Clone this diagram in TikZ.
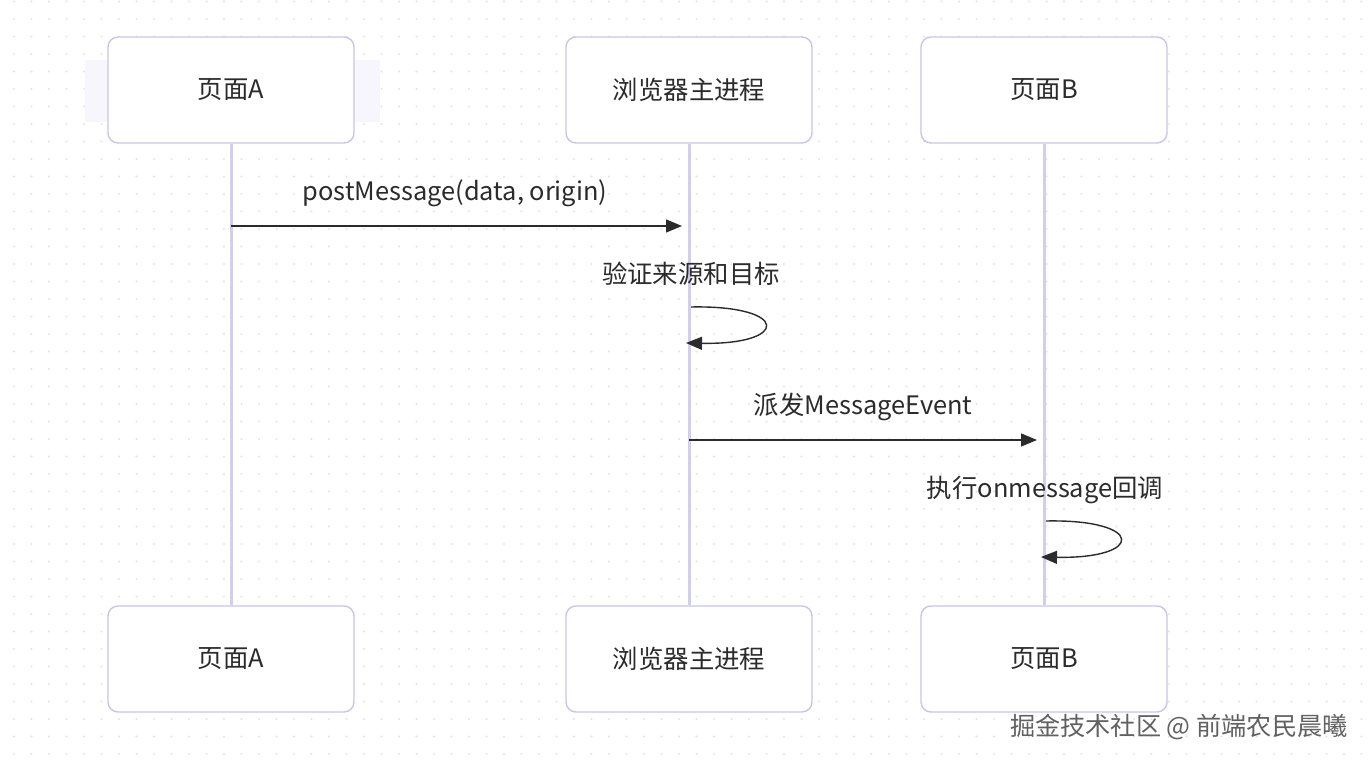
\documentclass[tikz,border=0pt]{standalone}
\usepackage{fontspec}
\setmainfont{Noto Sans CJK SC}
\usetikzlibrary{arrows.meta}

\definecolor{boxline}{HTML}{C9C5E8}
\definecolor{lifecol}{HTML}{D2CEF0}
\definecolor{ink}{HTML}{2B2B2B}
\definecolor{dotgray}{HTML}{E4E4E4}
\definecolor{glow}{HTML}{F7F6FD}

\begin{document}
\begin{tikzpicture}[x=0.5pt,y=-0.5pt,
    actor/.style={draw=boxline,fill=white,line width=0.7pt,rounded corners=5pt,
      minimum width=123pt,minimum height=53pt,text=ink,font=\fontsize{12.7}{15}\selectfont},
    lifeline/.style={draw=lifecol,line width=1.5pt},
    msg/.style={draw=ink,line width=0.7pt,-{Triangle[length=8pt,width=6.5pt]}},
    msgtext/.style={text=ink,inner sep=0pt,font=\fontsize{12.7}{15}\selectfont}]
  % Background
  \useasboundingbox (0,0) rectangle (1370,763);
  \fill[white] (0,0) rectangle (1370,763);
  \foreach \x in {0,...,77} {
    \foreach \y in {0,...,43} {
      \fill[dotgray] (14+17.5*\x,1.5+17.5*\y) circle (0.6pt);
    }
  }
  \fill[glow] (85,60) rectangle (380,122);
  % Participants
  \node[actor] (aTop) at (231,90) {页面A};
  \node[actor] (bTop) at (689,90) {浏览器主进程};
  \node[actor] (cTop) at (1044,90) {页面B};
  \node[actor] (aBot) at (231,659) {页面A};
  \node[actor] (bBot) at (689,659) {浏览器主进程};
  \node[actor] (cBot) at (1044,659) {页面B};
  % Lifelines
  \draw[lifeline] (aTop) -- (aBot);
  \draw[lifeline] (bTop) -- (bBot);
  \draw[lifeline] (cTop) -- (cBot);
  % Messages
  \coordinate (m1a) at (231,226);
  \coordinate (m1b) at (682,226);
  \draw[msg] (m1a) -- (m1b);
  \node[msgtext] (m1t) at (455,193) {postMessage(data, origin)};
  \coordinate (s1a) at (691,307);
  \coordinate (s1b) at (686,343);
  \draw[msg] (s1a) .. controls (790,305) and (790,345) .. (s1b);
  \node[msgtext] (s1t) at (691,274) {验证来源和目标};
  \coordinate (m2a) at (689,440);
  \coordinate (m2b) at (1037,440);
  \draw[msg] (m2a) -- (m2b);
  \node[msgtext] (m2t) at (863,407) {派发MessageEvent};
  \coordinate (s2a) at (1046,521);
  \coordinate (s2b) at (1041,557);
  \draw[msg] (s2a) .. controls (1145,519) and (1145,559) .. (s2b);
  \node[msgtext] (s2t) at (1045,490) {执行onmessage回调};
  % Watermark
  \node[anchor=east,inner sep=0pt,text=black!62,font=\fontsize{12.6}{15}\selectfont] (mark) at (1348,727) {掘金技术社区 @ 前端农民晨曦};
\end{tikzpicture}
\end{document}
